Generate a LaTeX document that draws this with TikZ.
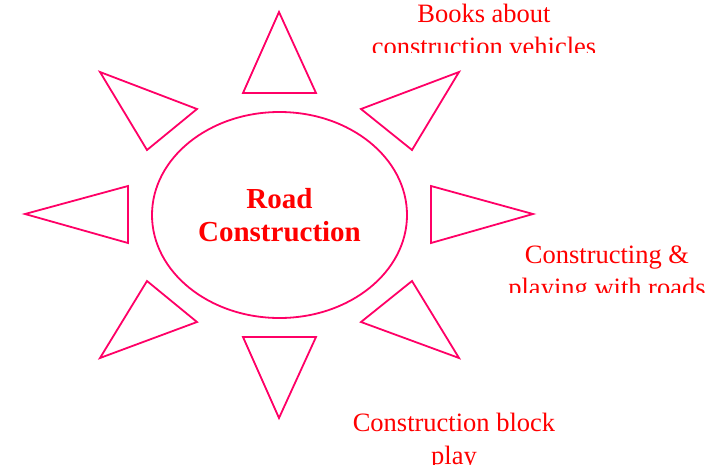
\documentclass[tikz,border=0pt]{standalone}
\usepackage{fontspec}
\setmainfont{Liberation Serif}
\usetikzlibrary{shapes.geometric}
\definecolor{rose}{RGB}{255,0,102}
\begin{document}
\begin{tikzpicture}[x=1pt,y=-1pt]
    \tikzset{rayon/.style={draw=rose, line width=1.8pt}}
    \tikzset{legende/.style={text=red, align=center, inner sep=0pt, font=\fontsize{26.5}{33}\selectfont}}
    \useasboundingbox (0,0) rectangle (715,464);
    \node[ellipse, rayon, minimum width=255pt, minimum height=206pt, text=red, align=center, font=\bfseries\fontsize{29}{34}\selectfont] (centre) at (279.5,215) {\raisebox{-3pt}{Road}\\\raisebox{-2pt}{Construction}};
    \draw[rayon] (279,12) -- (243,93) -- (316,93) -- cycle;
    \draw[rayon] (279,418) -- (243,337) -- (316,337) -- cycle;
    \draw[rayon] (25,214) -- (128,186) -- (128,243) -- cycle;
    \draw[rayon] (533,214) -- (431,186) -- (431,243) -- cycle;
    \draw[rayon] (100,72) -- (197,109) -- (147,150) -- cycle;
    \draw[rayon] (459,72) -- (361,109) -- (412,150) -- cycle;
    \draw[rayon] (100,358) -- (197,322) -- (147,281) -- cycle;
    \draw[rayon] (459,358) -- (361,322) -- (412,281) -- cycle;
    \begin{scope}
      \clip (330,0) rectangle (715,52);
      \node[legende] (livres) at (484,29.5) {Books about\\construction vehicles};
    \end{scope}
    \begin{scope}
      \clip (480,230) rectangle (715,292);
      \node[legende] (routes) at (607,274) {Constructing \&\\playing with roads};
    \end{scope}
    \begin{scope}
      \clip (330,395) rectangle (600,464);
      \node[legende] (blocs) at (454,441.5) {Construction block\\play};
    \end{scope}
\end{tikzpicture}
\end{document}
